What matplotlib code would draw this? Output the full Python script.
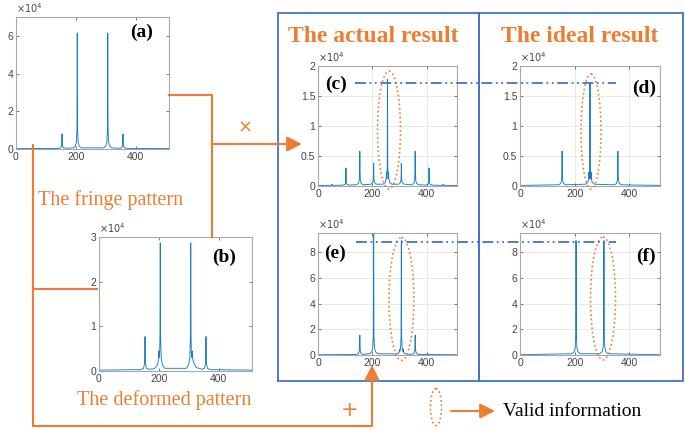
import matplotlib.pyplot as plt
from matplotlib.patches import Ellipse, Rectangle

# Spectra (values in units of 1e4)
a_x = [0, 140, 149, 152, 153, 154, 155, 156, 159, 168,
       191, 198, 202, 204, 205, 206, 208, 212, 219,
       293, 300, 304, 306, 307, 308, 310, 314, 321,
       344, 353, 356, 357, 358, 359, 360, 363, 372, 512]
a_y = [0.02, 0.03, 0.06, 0.15, 0.35, 0.8, 0.35, 0.15, 0.06, 0.04,
       0.06, 0.14, 0.35, 1.1, 6.15, 1.1, 0.35, 0.14, 0.06,
       0.06, 0.14, 0.35, 1.1, 6.15, 1.1, 0.35, 0.14, 0.06,
       0.04, 0.06, 0.15, 0.35, 0.8, 0.35, 0.15, 0.06, 0.03, 0.02]

b_x = [0, 140, 149, 152, 153, 154, 155, 156, 159, 168,
       185, 194, 198, 199, 200, 201, 203, 204, 205, 206, 208, 212, 220,
       292, 300, 304, 306, 307, 308, 309, 311, 312, 313, 316, 325,
       344, 353, 356, 357, 358, 359, 360, 363, 372, 512]
b_y = [0.02, 0.03, 0.06, 0.15, 0.35, 0.77, 0.35, 0.15, 0.06, 0.04,
       0.05, 0.12, 0.2, 0.3, 0.45, 0.3, 0.4, 0.8, 2.87, 0.8, 0.3, 0.14, 0.06,
       0.06, 0.14, 0.3, 0.8, 2.87, 0.8, 0.4, 0.3, 0.45, 0.3, 0.2, 0.08,
       0.04, 0.06, 0.15, 0.35, 0.77, 0.35, 0.15, 0.06, 0.03, 0.02]

c_x = [0, 45, 50, 51, 52, 57,
       92, 100, 102, 103, 104, 106, 114,
       140, 149, 152, 153, 154, 155, 156, 159, 168,
       195, 202, 204, 205, 206, 208, 215,
       240, 248, 251, 252, 253, 255, 256, 257, 259, 260, 261, 264, 272,
       297, 304, 306, 307, 308, 310, 317,
       344, 353, 356, 357, 358, 359, 360, 363, 372,
       398, 406, 408, 409, 410, 412, 420,
       455, 460, 461, 462, 467, 512]
c_y = [0.01, 0.01, 0.015, 0.03, 0.015, 0.01,
       0.015, 0.03, 0.08, 0.3, 0.08, 0.03, 0.015,
       0.02, 0.04, 0.1, 0.25, 0.58, 0.25, 0.1, 0.04, 0.02,
       0.03, 0.06, 0.12, 0.38, 0.12, 0.06, 0.03,
       0.03, 0.06, 0.12, 0.23, 0.12, 0.3, 1.78, 0.3, 0.12, 0.23, 0.12, 0.06, 0.03,
       0.03, 0.06, 0.12, 0.38, 0.12, 0.06, 0.03,
       0.02, 0.04, 0.1, 0.25, 0.58, 0.25, 0.1, 0.04, 0.02,
       0.015, 0.03, 0.08, 0.3, 0.08, 0.03, 0.015,
       0.01, 0.015, 0.03, 0.015, 0.01, 0.01]

d_x = [0, 140, 149, 152, 153, 154, 155, 156, 159, 168,
       240, 248, 251, 252, 253, 255, 256, 257, 259, 260, 261, 264, 272,
       344, 353, 356, 357, 358, 359, 360, 363, 372, 512]
d_y = [0.01, 0.02, 0.04, 0.1, 0.25, 0.58, 0.25, 0.1, 0.04, 0.02,
       0.03, 0.06, 0.12, 0.23, 0.12, 0.3, 1.7, 0.3, 0.12, 0.23, 0.12, 0.06, 0.03,
       0.02, 0.04, 0.1, 0.25, 0.58, 0.25, 0.1, 0.04, 0.02, 0.01]

e_x = [0, 140, 149, 152, 153, 154, 155, 156, 159, 168,
       190, 198, 202, 204, 205, 206, 208, 212, 220,
       290, 297, 299, 300, 301, 304, 306, 307, 308, 310, 313, 314, 315, 317, 324,
       344, 353, 356, 357, 358, 359, 360, 363, 372, 512]
e_y = [0.02, 0.04, 0.1, 0.3, 0.6, 1.55, 0.6, 0.3, 0.1, 0.05,
       0.1, 0.25, 0.6, 1.5, 9.6, 1.5, 0.6, 0.25, 0.1,
       0.08, 0.15, 0.25, 0.45, 0.25, 0.5, 1.5, 8.9, 1.5, 0.5, 0.25, 0.45, 0.25, 0.15, 0.08,
       0.05, 0.1, 0.3, 0.6, 1.55, 0.6, 0.3, 0.1, 0.04, 0.02]

f_x = [0, 190, 198, 202, 204, 205, 206, 208, 212, 220,
       292, 300, 304, 306, 307, 308, 310, 314, 322, 512]
f_y = [0.02, 0.1, 0.25, 0.6, 1.5, 8.9, 1.5, 0.6, 0.25, 0.1,
       0.1, 0.25, 0.6, 1.5, 8.9, 1.5, 0.6, 0.25, 0.1, 0.02]

x_ticks = [0, 200, 400]
panel_labels = ["(a)", "(b)", "(c)", "(d)", "(e)", "(f)"]

W, H = 685, 429
orange = "#ED7D31"
blue = "#4472C4"
line_blue = "#1a7cc4"

fig = plt.figure(figsize=(W / 100, H / 100), dpi=100)


def box(l, t, r, b):
    return [l / W, 1 - b / H, (r - l) / W, (b - t) / H]


def spectrum(rect, xs, ys, ymax, yticks, label, lab_pos, grid):
    ax = fig.add_axes(box(*rect))
    ax.plot(xs, ys, color=line_blue, lw=0.65)
    ax.set_xlim(0, 512)
    ax.set_ylim(0, ymax)
    ax.set_xticks(x_ticks)
    ax.set_yticks(yticks)
    ax.set_yticklabels([f"{v:g}" for v in yticks])
    ax.tick_params(direction="in", length=2, width=0.5, top=True, right=True,
                   labelsize=7.5, colors="#444444", pad=2)
    for tl in ax.get_xticklabels() + ax.get_yticklabels():
        tl.set_fontfamily("Liberation Sans")
    for s in ax.spines.values():
        s.set_color("#a8a8a8")
        s.set_linewidth(0.8)
    if grid:
        ax.grid(True, color="#e4e4e4", lw=0.6)
        ax.set_axisbelow(True)
    ax.text(0.0, 1.015, r"$\times10^{4}$", transform=ax.transAxes,
            fontsize=7, color="#444444", ha="left", va="bottom")
    ax.text(lab_pos[0], lab_pos[1], label, transform=ax.transAxes,
            fontsize=14, fontweight="bold", family="Liberation Serif",
            ha="center", va="center")
    return ax


spectrum((16, 17, 169, 149), a_x, a_y, 7, [0, 2, 4, 6], panel_labels[0], (0.82, 0.88), False)
spectrum((99, 237, 252, 371), b_x, b_y, 3, [0, 1, 2, 3], panel_labels[1], (0.82, 0.85), False)
spectrum((318, 66, 457, 186), c_x, c_y, 2, [0, 0.5, 1, 1.5, 2], panel_labels[2], (0.13, 0.85), True)
spectrum((520, 66, 660, 186), d_x, d_y, 2, [0, 0.5, 1, 1.5, 2], panel_labels[3], (0.89, 0.81), True)
spectrum((318, 233, 457, 355), e_x, e_y, 9.5, [0, 2, 4, 6, 8], panel_labels[4], (0.125, 0.83), True)
spectrum((520, 233, 660, 355), f_x, f_y, 9.5, [0, 2, 4, 6, 8], panel_labels[5], (0.9, 0.81), True)

# overlay in pixel coordinates for the diagram parts
ov = fig.add_axes([0, 0, 1, 1])
ov.set_xlim(0, W)
ov.set_ylim(H, 0)
ov.axis("off")
ov.set_zorder(10)
ov.patch.set_alpha(0)

# blue boxes
ov.add_patch(Rectangle((278, 13), 201, 368, fill=False, ec=blue, lw=1.3))
ov.add_patch(Rectangle((479, 13), 204, 368, fill=False, ec=blue, lw=1.3))
ov.text(373, 36, "The actual result", color=orange, fontsize=17, fontweight="bold",
        family="Liberation Serif", ha="center", va="center")
ov.text(580, 36, "The ideal result", color=orange, fontsize=17, fontweight="bold",
        family="Liberation Serif", ha="center", va="center")

# dash-dot reference lines
ov.plot([355, 616], [83, 83], color=blue, lw=1.3, dashes=(6, 2, 1, 2, 1, 2))
ov.plot([356, 616], [242, 242], color=blue, lw=1.3, dashes=(6, 2, 1, 2, 1, 2))

# orange connectors
ov.plot([33, 33, 372, 372], [145, 426, 426, 376], color=orange, lw=1.5)
ov.plot([33, 97], [289, 289], color=orange, lw=1.5)
ov.plot([169, 212, 212], [95, 95, 237], color=orange, lw=1.5)
ov.annotate("", xy=(302, 144), xytext=(212, 144),
            arrowprops=dict(arrowstyle="-|>,head_length=0.9,head_width=0.45",
                            color=orange, lw=1.5, shrinkA=0, shrinkB=0))
ov.annotate("", xy=(372, 365), xytext=(372, 380),
            arrowprops=dict(arrowstyle="-|>,head_length=0.9,head_width=0.45",
                            color=orange, lw=1.5, shrinkA=0, shrinkB=0))
ov.text(245, 128, "×", color=orange, fontsize=13, ha="center", va="center")
ov.text(350, 410, "+", color=orange, fontsize=15, ha="center", va="center")

ov.text(111, 200, "The fringe pattern", color=orange, fontsize=14.5,
        family="Liberation Serif", ha="center", va="center")
ov.text(164, 400, "The deformed pattern", color=orange, fontsize=14.5,
        family="Liberation Serif", ha="center", va="center")

# valid-information ellipses
for cx, cy, w, h in [(389, 130, 23, 118), (591, 131.5, 20, 115),
                     (401.5, 299, 25, 123), (603, 298.5, 25, 123),
                     (436, 407, 11, 37)]:
    ov.add_patch(Ellipse((cx, cy), w, h, fill=False, ec=orange, lw=1.2, ls=":"))

ov.annotate("", xy=(495, 411), xytext=(451, 411),
            arrowprops=dict(arrowstyle="-|>,head_length=0.9,head_width=0.45",
                            color=orange, lw=1.5, shrinkA=0, shrinkB=0))
ov.text(503, 411, "Valid information", fontsize=14, family="Liberation Serif",
        ha="left", va="center")

fig.savefig("out.png", dpi=100)
